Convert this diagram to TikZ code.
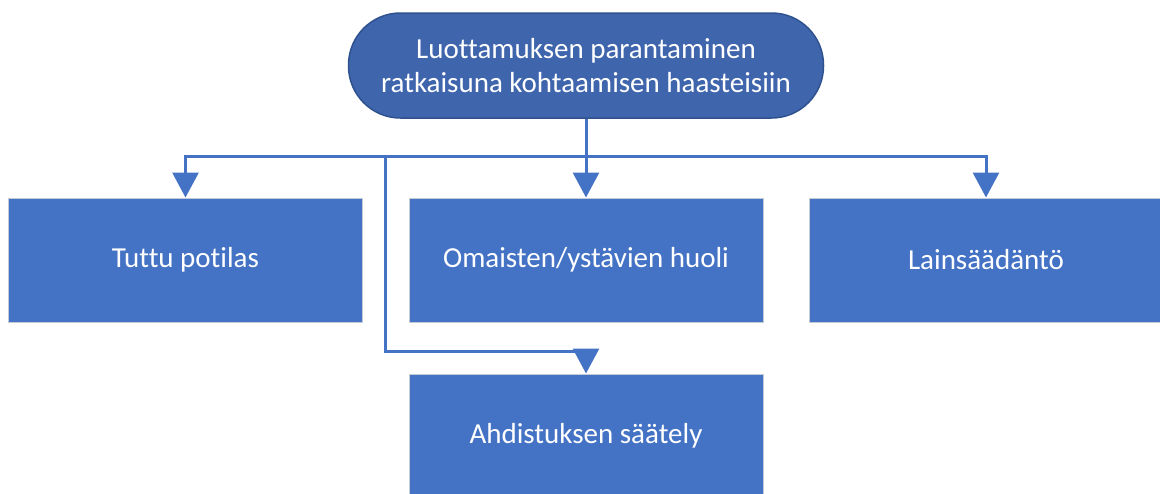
\documentclass[tikz,border=0pt]{standalone}
\usepackage{fontspec}
\setmainfont{Carlito}[Ligatures={NoCommon}]
\usetikzlibrary{arrows.meta}
\definecolor{accent}{HTML}{4472C4}
\definecolor{rootfill}{HTML}{3F65AD}
\definecolor{rootline}{HTML}{2F528F}
\definecolor{boxline}{HTML}{C5CBD6}
\tikzset{
  stepbox/.style={rectangle, fill=accent, draw=boxline, line width=1pt,
    minimum width=354pt, minimum height=124pt, text=white,
    font=\fontsize{29}{34}\selectfont, inner sep=0pt},
  rootbox/.style={rectangle, rounded corners=52pt, fill=rootfill, draw=rootline,
    line width=1.5pt, minimum width=475pt, minimum height=105pt, text=white,
    align=center, font=\fontsize{29}{34}\selectfont, inner sep=0pt},
  conn/.style={draw=accent, line width=3pt,
    -{Triangle[width=26pt,length=25pt]}},
  wire/.style={draw=accent, line width=3pt}
}
\begin{document}
\begin{tikzpicture}[x=1pt,y=-1pt]
\useasboundingbox (0,0) rectangle (1160,493);
\clip (0,0) rectangle (1160,493);
\fill[white] (0,0) rectangle (1160,493);

% root and the four topics
\node[rootbox] (root) at (586,65.5) {Luottamuksen parantaminen\\ratkaisuna kohtaamisen haasteisiin};
\node[stepbox] (tuttu) at (185.5,260) {Tuttu potilas};
\node[stepbox] (omaiset) at (586,260) {Omaisten/ystävien huoli};
\node[stepbox] (laki) at (986,260) {Lainsäädäntö};
\node[stepbox] (ahd) at (586,436) {Ahdistuksen säätely};

% junction points of the connector tree
\coordinate (bar) at (586,156.5);
\coordinate (branch) at (385,156.5);
\coordinate (elbow) at (385,351);

% connectors
\draw[wire] (root.south) -- (bar);
\draw[conn] (bar) -- (omaiset.north);
\draw[conn] (bar) -| (tuttu.north);
\draw[conn] (bar) -| (laki.north);
\draw[conn] (branch) -- (elbow) -| (ahd.north);
\end{tikzpicture}
\end{document}
